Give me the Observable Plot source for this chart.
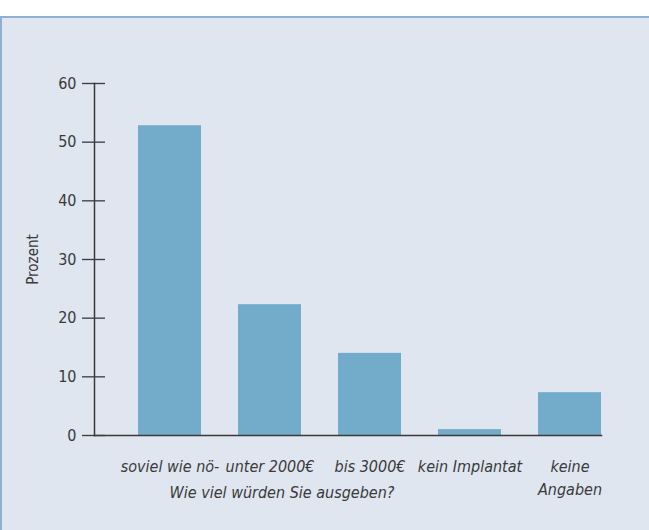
<!DOCTYPE html>
<html><head><meta charset="utf-8">
<script src="https://cdn.jsdelivr.net/npm/d3@7"></script>
<script src="https://cdn.jsdelivr.net/npm/@observablehq/plot@0.6"></script>
<style>
html,body{margin:0;padding:0;background:#fff;width:649px;height:530px;overflow:hidden;}
#panel{position:absolute;left:0;top:16px;width:647px;height:512px;background:#dfe6f0;border-top:2px solid #8fb0d3;border-left:2px solid #8fb0d3;}
#panel svg{display:block;}
</style></head>
<body><div id="panel"></div>
<script>
const categories = ["soviel wie nö-", "unter 2000€", "bis 3000€", "kein Implantat", "keine\nAngaben"];
const values = [52.8, 22.3, 14.0, 1.0, 7.3];
const yTicks = [0, 10, 20, 30, 40, 50, 60];
const yLabel = "Prozent";
const xLabel = "Wie viel würden Sie ausgeben?";

const data = categories.map((c, i) => ({cat: c, val: values[i]}));
const font = "'Liberation Sans Narrow', 'DejaVu Sans Condensed', 'Roboto', sans-serif";

const chart = Plot.plot({
  width: 647,
  height: 512,
  marginLeft: 92,
  marginRight: 48,
  marginTop: 65,
  marginBottom: 95,
  style: {background: "transparent", fontFamily: font, color: "#3a3a3a", overflow: "visible"},
  x: {domain: categories, paddingInner: 0.373, paddingOuter: 0.204, align: 1, label: null},
  y: {domain: [0, 60], label: null},
  marks: [
    Plot.barY(data, {x: "cat", y: "val", fill: "#73acca"}),
    Plot.axisY({ticks: yTicks, tickSize: 23, dx: 11, text: null, stroke: "#3a3a3a", strokeWidth: 1.3, label: null}),
    Plot.axisY({ticks: yTicks, tickSize: 0, tickPadding: 18, fontSize: 16, fill: "#3a3a3a", label: null}),
    Plot.frame({anchor: "left", stroke: "#3a3a3a", strokeWidth: 1.5}),
    Plot.frame({anchor: "bottom", stroke: "#3a3a3a", strokeWidth: 1.5}),
    Plot.axisX({tickSize: 0, tickPadding: 20, fontSize: 16, fontStyle: "italic", fill: "#3a3a3a", lineHeight: 1.45, label: null}),
    Plot.text([xLabel], {text: d => d, frameAnchor: "bottom", dx: -66, dy: 62, fontSize: 16, fontStyle: "italic", fill: "#3a3a3a"}),
    Plot.text([yLabel], {text: d => d, frameAnchor: "left", textAnchor: "middle", dx: -61, rotate: -90, fontSize: 15, fill: "#3a3a3a"})
  ]
});
document.getElementById("panel").appendChild(chart);
</script>
</body></html>
